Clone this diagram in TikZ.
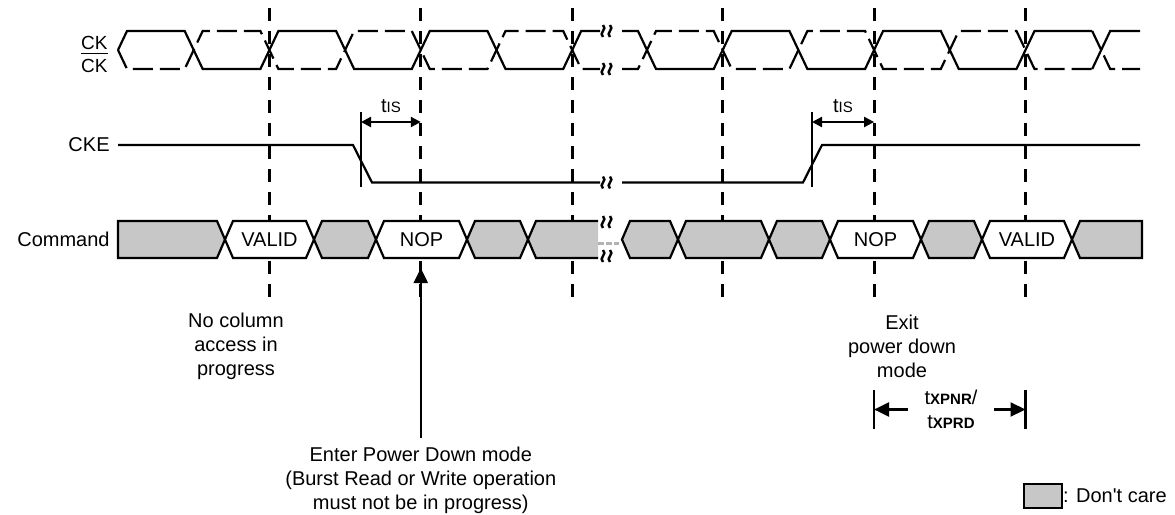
\documentclass[tikz,border=0pt]{standalone}
\usepackage{fontspec}
\setmainfont{Liberation Sans}
\usetikzlibrary{arrows.meta}

\tikzset{
  sig/.style={line width=1.1pt},
  sigdash/.style={sig,dash pattern=on 10pt off 3.5pt},
  clkedge/.style={line width=1.6pt,dash pattern=on 6.5pt off 5pt},
  dontcare/.style={draw,line width=1.1pt,fill=black!22},
  cmdvalid/.style={draw,line width=1.1pt,fill=white},
  txt/.style={font=\fontsize{10}{12}\selectfont,align=center,inner sep=0pt},
  meas/.style={line width=1.1pt,{Triangle[length=5pt,width=5pt]}-{Triangle[length=5pt,width=5pt]}},
  bigtip/.style={line width=1.1pt,-{Triangle[length=7.5pt,width=7pt]}},
}
\newcommand{\tsub}[1]{{\fontsize{7.5}{9}\selectfont #1}}
\newcommand{\brkmark}[2]{%
  \foreach \d in {0,7}
    \draw[line width=1.2pt] (#1+\d,#2-6) .. controls (#1+\d+5,#2-2) and (#1+\d-5,#2+2) .. (#1+\d,#2+6);}
\newcommand{\cmdseg}[3]{%
  \draw[#3] (#1,239.5) -- (#1+8,221) -- (#2-8,221) -- (#2,239.5) -- (#2-8,258) -- (#1+8,258) -- cycle;}
\def\cka{193.7/31/69,269.4/69/31,345.1/31/69,420.8/69/31,496.5/31/69,572.2/69/31}
\def\ckb{647/31/69,722.7/69/31,798.4/31/69,874.1/69/31,949.8/31/69,1025.5/69/31}

\begin{document}
\begin{tikzpicture}[x=0.5pt,y=-0.5pt]
\useasboundingbox (0,0) rectangle (1175,515);

% clock edges
\foreach \x in {269.4,420.8,572.2,722.7,874.1,1025.5}
  \draw[clkedge] (\x,8) -- (\x,297);

% CK / CK#
\node[txt,anchor=east,font=\fontsize{9.5}{11}\selectfont] (cklbl) at (108,42.5) {CK};
\node[txt,anchor=east,font=\fontsize{9.5}{11}\selectfont] (ckblbl) at (108,66) {CK};
\draw[line width=0.6pt] ([yshift=2.5pt]ckblbl.north west) -- ([yshift=2.5pt]ckblbl.north east);
\draw[sig] (118,50) -- (127,31) foreach \c/\a/\b in \cka {-- (\c-9,\a) -- (\c+9,\b)} -- (600,31);
\draw[sigdash] (118,50) -- (127,69) foreach \c/\a/\b in \cka {-- (\c-9,\b) -- (\c+9,\a)} -- (600,69);
\draw[sig] (622,31) foreach \c/\a/\b in \ckb {-- (\c-9,\a) -- (\c+9,\b)} -- (1092.2,31);
\draw[sigdash] (622,69) foreach \c/\a/\b in \ckb {-- (\c-9,\b) -- (\c+9,\a)} -- (1092.2,69);
\draw[sig] (1092.2,69) -- (1110.2,31) -- (1140,31);
\draw[sigdash] (1092.2,31) -- (1110.2,69) -- (1140,69);
\brkmark{603}{31}
\brkmark{603}{69}

% CKE
\node[txt,anchor=east] (ckelbl) at (110,145) {CKE};
\draw[sig] (118,145) -- (353,145) -- (372,182.5) -- (600,182.5);
\draw[sig] (622,182.5) -- (803,182.5) -- (822,145) -- (1140,145);
\brkmark{603}{182.5}

% tIS
\draw[sig] (361,112) -- (361,187);
\draw[sig] (812,112) -- (812,187);
\coordinate (tisa1) at (361,122);
\coordinate (tisb1) at (420.8,122);
\coordinate (tisa2) at (812,122);
\coordinate (tisb2) at (874.1,122);
\draw[meas] (tisa1) -- (tisb1);
\draw[meas] (tisa2) -- (tisb2);
\node[txt] (tis1) at (391,106) {t\tsub{IS}};
\node[txt] (tis2) at (843,106) {t\tsub{IS}};

% Command
\node[txt,anchor=east] (cmdlbl) at (110,239.5) {Command};
\draw[dontcare] (118,221) -- (217,221) -- (225,239.5) -- (217,258) -- (118,258) -- cycle;
\foreach \a/\b/\s in {225/314/cmdvalid,314/376/dontcare,376/467/cmdvalid,467/528/dontcare,
  622/678/dontcare,678/769/dontcare,769/830/dontcare,830/921/cmdvalid,921/982/dontcare,982/1072/cmdvalid}
  {\cmdseg{\a}{\b}{\s}}
\fill[black!22] (528,239.5) -- (536,221) -- (598,221) -- (598,258) -- (536,258) -- cycle;
\draw[sig] (598,221) -- (536,221) -- (528,239.5) -- (536,258) -- (598,258);
\draw[black!30,line width=1.5pt,dash pattern=on 3pt off 1pt] (598,243) -- (619,243);
\draw[dontcare] (1072,239.5) -- (1080,221) -- (1142,221) -- (1142,258) -- (1080,258) -- cycle;
\brkmark{603}{222}
\brkmark{603}{256}
\node[txt] (valid1) at (269.5,239.5) {VALID};
\node[txt] (nop1) at (421.5,239.5) {NOP};
\node[txt] (nop2) at (875.5,239.5) {NOP};
\node[txt] (valid2) at (1027,239.5) {VALID};

% notes
\node[txt] (nocol) at (236,346) {No column\\access in\\progress};
\node[txt] (exitpd) at (902,346) {Exit\\power down\\mode};
\node[txt] (enterpd) at (420.8,480) {Enter Power Down mode\\(Burst Read or Write operation\\must not be in progress)};
\coordinate (entertip) at (420.8,268);
\draw[bigtip,shorten <=4pt] (enterpd) -- (entertip);

% tXPNR / tXPRD
\draw[sig] (874.1,390) -- (874.1,429);
\draw[sig] (1025.5,390) -- (1025.5,429);
\node[txt] (txp) at (951,409.5) {t\tsub{\bfseries XPNR}/\\t\tsub{\bfseries XPRD}};
\coordinate (txpl) at (874.1,409.5);
\coordinate (txpr) at (1025.5,409.5);
\draw[bigtip,shorten <=8pt] (txp) -- (txpl);
\draw[bigtip,shorten <=8pt] (txp) -- (txpr);

% legend
\node[draw,line width=0.8pt,fill=black!22,minimum width=19pt,minimum height=12pt,inner sep=0pt] (dcbox) at (1043,496) {};
\node[txt,anchor=west] (dclbl) at (dcbox.east) {: Don\textquotesingle t care};
\end{tikzpicture}
\end{document}
